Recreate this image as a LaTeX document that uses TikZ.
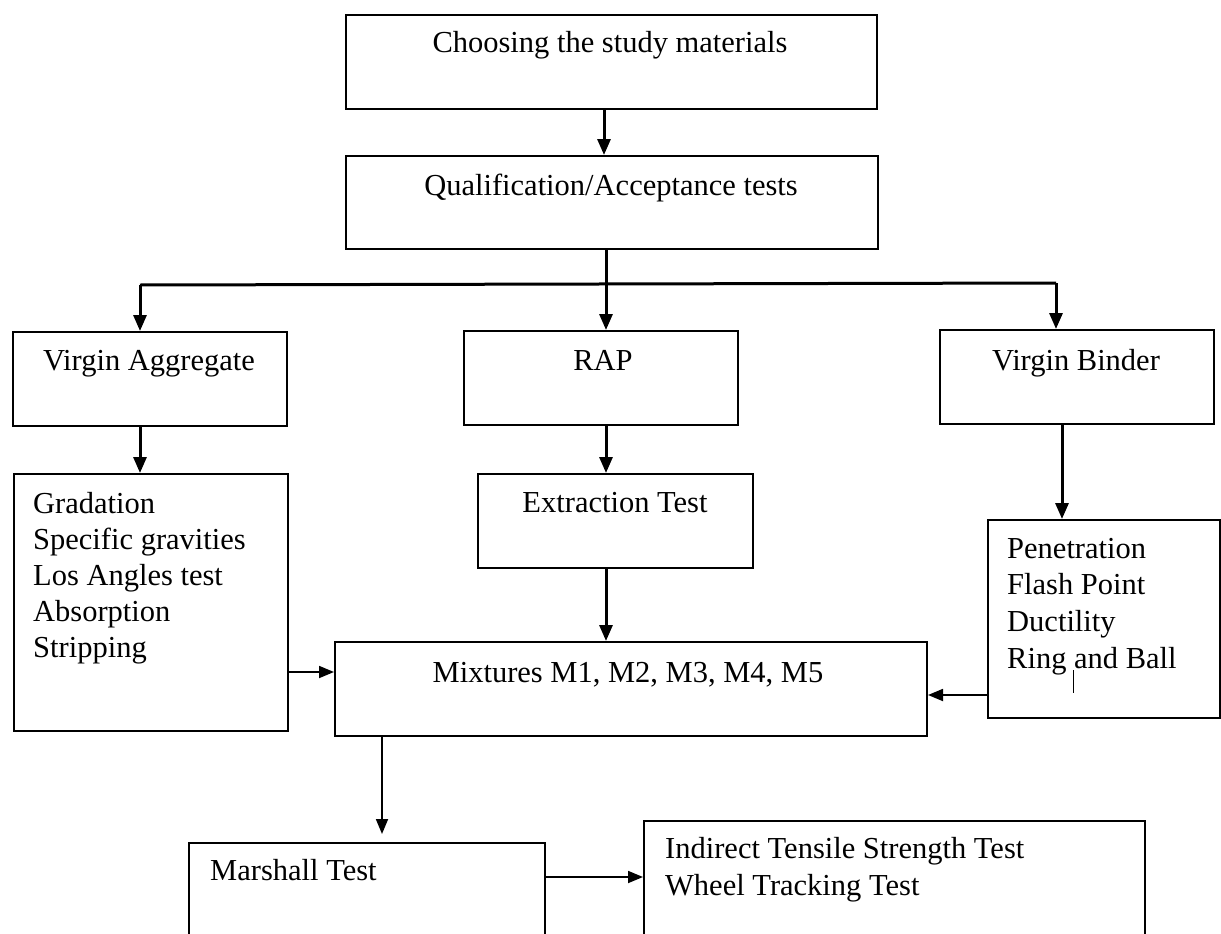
\documentclass[tikz,border=0pt]{standalone}
\usepackage{fontspec}
\setmainfont{Liberation Serif}
\usetikzlibrary{arrows.meta,calc}
\begin{document}
\begin{tikzpicture}[x=1pt,y=-1pt]
\tikzset{
  box/.style={draw=black, line width=2pt, rectangle, inner sep=0pt, anchor=north west},
  txt/.style={font=\fontsize{30.5}{36.5}\selectfont, inner sep=0pt, anchor=base},
  txtl/.style={txt, anchor=base west},
  arr/.style={line width=3pt, -{Triangle[length=16pt,width=13pt]}},
  thinarr/.style={line width=1.8pt, -{Triangle[length=15pt,width=12pt]}},
  conn/.style={line width=3pt},
}
\fill[white] (0,0) rectangle (1221,934);
\useasboundingbox (0,0) rectangle (1221,934);
\clip (0,0) rectangle (1221,934);

% boxes
\node[box, minimum width=531pt, minimum height=94pt] (b1) at (345,14) {};
\node[box, minimum width=532pt, minimum height=93pt] (b2) at (345,155) {};
\node[box, minimum width=274pt, minimum height=94pt] (va) at (12,331) {};
\node[box, minimum width=274pt, minimum height=94pt] (rap) at (463,330) {};
\node[box, minimum width=274pt, minimum height=94pt] (vb) at (939,329) {};
\node[box, minimum width=274pt, minimum height=257pt] (grad) at (13,473) {};
\node[box, minimum width=275pt, minimum height=94pt] (ext) at (477,473) {};
\node[box, minimum width=232pt, minimum height=198pt] (bt) at (987,519) {};
\node[box, minimum width=592pt, minimum height=94pt] (mix) at (334,641) {};
\node[box, minimum width=356pt, minimum height=160pt] (mar) at (188,842) {};
\node[box, minimum width=501pt, minimum height=180pt] (ind) at (643,820) {};

% texts
\node[txt] (t1) at (610,53) {Choosing the study materials};
\node[txt] (t2) at (611,195) {Qualification/Acceptance tests};
\node[txt] (tva) at (149,370) {Virgin Aggregate};
\node[txt] (trap) at (603,370) {RAP};
\node[txt] (tvb) at (1076,370) {Virgin Binder};
\node[txtl] (g1) at (33,513) {Gradation};
\node[txtl] (g2) at (33,549) {Specific gravities};
\node[txtl] (g3) at (33,585) {Los Angles test};
\node[txtl] (g4) at (33,621) {Absorption};
\node[txtl] (g5) at (33,657) {Stripping};
\node[txt] (text) at (615,512) {Extraction Test};
\node[txtl] (p1) at (1007,558) {Penetration};
\node[txtl] (p2) at (1007,594) {Flash Point};
\node[txtl] (p3) at (1007,631) {Ductility};
\node[txtl] (p4) at (1007,668) {Ring and Ball};
\node[txt] (tmix) at (628,682) {Mixtures M1, M2, M3, M4, M5};
\node[txtl] (tmar) at (210,880) {Marshall Test};
\node[txtl] (i1) at (665,858) {Indirect Tensile Strength Test};
\node[txtl] (i2) at (665,895) {Wheel Tracking Test};
\draw[line width=1pt] (1073,670) -- (1073,693);

% connectors
\coordinate (c1) at (604,0);
\draw[arr] (c1 |- b1.south) -- (c1 |- b2.north);
\coordinate (split) at (606,284);
\coordinate (sL) at (140,285);
\coordinate (sR) at (1056,283);
\draw[conn] (split |- b2.south) -- (split);
\draw[conn] (sL) -- (sR);
\draw[arr] (split) -- (split |- rap.north);
\draw[arr] (sL) -- (sL |- va.north);
\draw[arr] (sR) -- (sR |- vb.north);
\draw[arr] (sL |- va.south) -- (sL |- grad.north);
\draw[arr] (split |- rap.south) -- (split |- ext.north);
\draw[arr] (split |- ext.south) -- (split |- mix.north);
\coordinate (bx) at (1062,0);
\draw[arr] (bx |- vb.south) -- (bx |- bt.north);
\coordinate (gy) at (0,672);
\draw[thinarr] (gy -| grad.east) -- (gy -| mix.west);
\coordinate (by) at (0,695);
\draw[thinarr] (by -| bt.west) -- (by -| mix.east);
\coordinate (mx) at (382,0);
\draw[thinarr, shorten >=8pt] (mx |- mix.south) -- (mx |- mar.north);
\coordinate (my) at (0,877);
\draw[thinarr] (my -| mar.east) -- (my -| ind.west);
\end{tikzpicture}
\end{document}
